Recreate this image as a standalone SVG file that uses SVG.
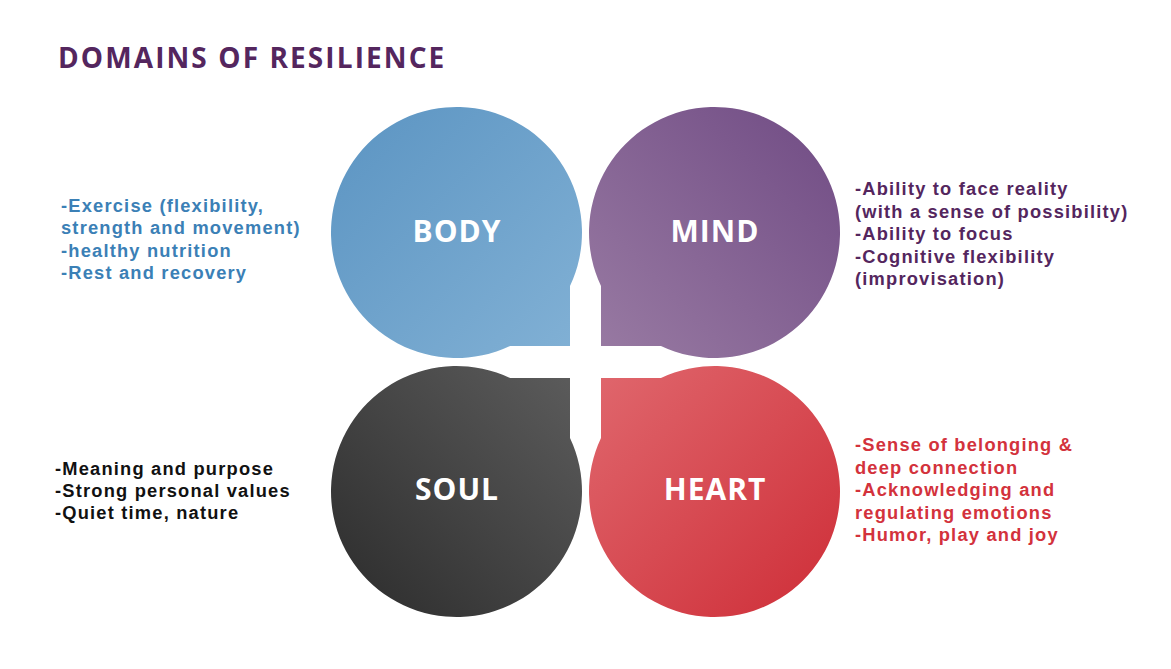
<svg xmlns="http://www.w3.org/2000/svg" width="1171" height="669" viewBox="0 0 1171 669">
<defs>
<linearGradient id="gBody" x1="0" y1="0" x2="1" y2="1"><stop offset="0" stop-color="#5b94c2"/><stop offset="1" stop-color="#82b1d5"/></linearGradient>
<linearGradient id="gMind" x1="1" y1="0" x2="0" y2="1"><stop offset="0" stop-color="#704b84"/><stop offset="1" stop-color="#997ba3"/></linearGradient>
<linearGradient id="gSoul" x1="0" y1="1" x2="1" y2="0"><stop offset="0" stop-color="#2b2b2b"/><stop offset="1" stop-color="#5d5d5d"/></linearGradient>
<linearGradient id="gHeart" x1="0" y1="0" x2="1" y2="1"><stop offset="0" stop-color="#e0686e"/><stop offset="1" stop-color="#ce2d37"/></linearGradient>
</defs>
<style>
text{font-family:"Open Sans","Liberation Sans",sans-serif;font-weight:700}
.title{font-size:28px;fill:#54265e;letter-spacing:2.1px}
.lbl{font-size:30px;fill:#ffffff;text-anchor:middle;letter-spacing:1px}
.desc{font-family:"Liberation Sans","Arial",sans-serif;font-size:18.3px;letter-spacing:1.2px}
.blue{fill:#3b80b6}
.purple{fill:#54265e}
.black{fill:#111111}
.red{fill:#d3323c}
</style>
<rect width="1171" height="669" fill="#ffffff"/>
<text class="title" x="58" y="68">DOMAINS OF RESILIENCE</text>
<g id="body">
<path d="M570,286.05 L570,346 L510.05,346 A125.5,125.5 0 1 1 570,286.05 Z" fill="url(#gBody)"/>
<text class="lbl" x="457" y="242">BODY</text>
</g>
<g id="mind">
<path d="M601,286.05 L601,346 L660.95,346 A125.5,125.5 0 1 0 601,286.05 Z" fill="url(#gMind)"/>
<text class="lbl" x="715" y="242">MIND</text>
</g>
<g id="soul">
<path d="M570,437.95 L570,378 L510.05,378 A125.5,125.5 0 1 0 570,437.95 Z" fill="url(#gSoul)"/>
<text class="lbl" x="457" y="500">SOUL</text>
</g>
<g id="heart">
<path d="M601,437.95 L601,378 L660.95,378 A125.5,125.5 0 1 1 601,437.95 Z" fill="url(#gHeart)"/>
<text class="lbl" x="715" y="500">HEART</text>
</g>
<g id="body-text">
<text class="desc blue" x="61" y="211.5">-Exercise (flexibility,</text>
<text class="desc blue" x="61" y="234">strength and movement)</text>
<text class="desc blue" x="61" y="256.5">-healthy nutrition</text>
<text class="desc blue" x="61" y="279">-Rest and recovery</text>
</g>
<g id="mind-text">
<text class="desc purple" x="855" y="195">-Ability to face reality</text>
<text class="desc purple" x="855" y="217.5">(with a sense of possibility)</text>
<text class="desc purple" x="855" y="240">-Ability to focus</text>
<text class="desc purple" x="855" y="262.5">-Cognitive flexibility</text>
<text class="desc purple" x="855" y="285">(improvisation)</text>
</g>
<g id="soul-text">
<text class="desc black" x="55" y="475">-Meaning and purpose</text>
<text class="desc black" x="55" y="497">-Strong personal values</text>
<text class="desc black" x="55" y="519">-Quiet time, nature</text>
</g>
<g id="heart-text">
<text class="desc red" x="855" y="451">-Sense of belonging &amp;</text>
<text class="desc red" x="855" y="473.5">deep connection</text>
<text class="desc red" x="855" y="496">-Acknowledging and</text>
<text class="desc red" x="855" y="518.5">regulating emotions</text>
<text class="desc red" x="855" y="541">-Humor, play and joy</text>
</g>
</svg>
